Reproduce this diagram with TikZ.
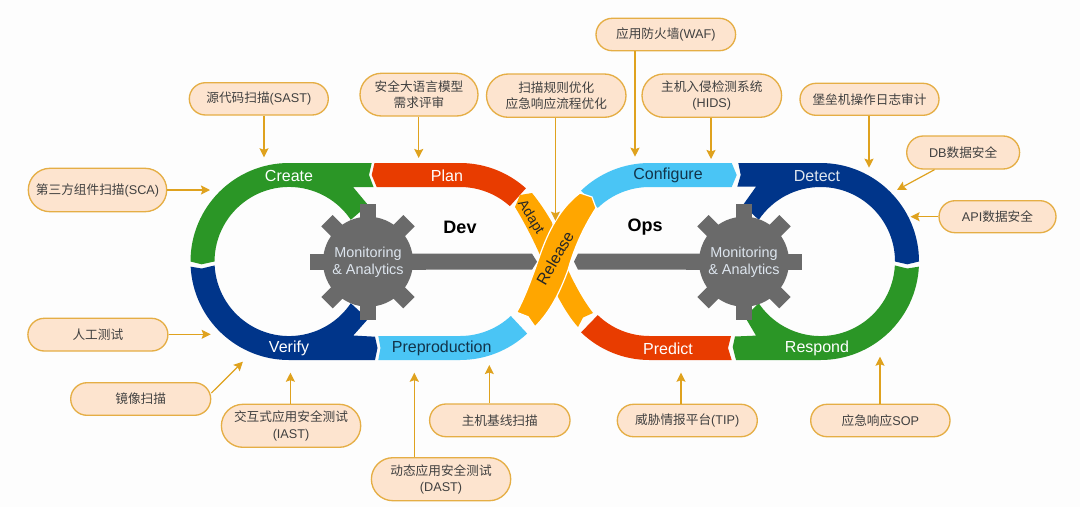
\documentclass[tikz,border=0pt]{standalone}
\usepackage{fontspec}
\setmainfont{Liberation Sans}
\newfontfamily\cjk{Noto Sans CJK SC}
\newcommand{\zh}[1]{{\cjk #1}}
\usetikzlibrary{arrows.meta,shapes.misc}
\definecolor{bgc}{HTML}{FDFDFD}
\definecolor{gr}{HTML}{2B9626}
\definecolor{nv}{HTML}{00358A}
\definecolor{rd}{HTML}{E83C00}
\definecolor{lb}{HTML}{4AC5F5}
\definecolor{og}{HTML}{FFA600}
\definecolor{gy}{HTML}{6A6A6A}
\definecolor{bf}{HTML}{FDE4CF}
\definecolor{bd}{HTML}{E5AE45}
\definecolor{ac}{HTML}{DFA21E}
\definecolor{tx}{HTML}{404040}
\definecolor{dk}{HTML}{12344A}
\definecolor{lt}{HTML}{DDE5EE}
\tikzset{
  x=0.75pt,y=-0.75pt,
  lab/.style={rounded rectangle,draw=bd,fill=bf,line width=1pt,inner sep=0pt,text=tx,align=center,
    font=\fontsize{9.5}{12.2}\selectfont},
  arr/.style={draw=ac,line width=0.9pt,-{Stealth[length=6.8pt,width=6.8pt,inset=1.2pt]}},
  wtxt/.style={text=white,font=\fontsize{12}{14}\selectfont,inner sep=0pt},
  dtxt/.style={text=dk,font=\fontsize{12}{14}\selectfont,inner sep=0pt},
  head/.style={text=black,font=\fontsize{13.5}{15}\selectfont\bfseries,inner sep=0pt},
  mon/.style={text=lt,font=\fontsize{10.8}{13}\selectfont,align=center,inner sep=0pt},
}
\newcommand{\boxn}[7]{\node[lab,minimum width={(#4-#2)*0.75pt},minimum height={(#5-#3)*0.75pt}] (#1) at ({(#2+#4)/2},{(#3+#5)/2}) {#6};}
\newcommand{\geardraw}[2]{%
  \fill[gy] (#1,#2) circle[radius=45];
  \foreach \a in {0,45,...,315}{
    \fill[gy,shift={(#1,#2)},rotate=\a] (30,-8) rectangle (58,8);
  }%
}
\begin{document}
\begin{tikzpicture}
\useasboundingbox (0,0) rectangle (1080,507);
\fill[bgc] (0,0) rectangle (1080,507);

% left lobe
\fill[gr] (190.5,261.5) arc[start angle=180,end angle=270,radius=98.5] -- (371.7,163) -- (369,175) -- (373.5,187) -- (353,187) -- (368,205) -- (350.8,219.8) arc[start angle=-34,end angle=-180,radius=74.5] -- (201.7,264.3) -- cycle;
\fill[nv] ({289+98.5*cos(177)},{261.5+98.5*sin(177)}) arc[start angle=177,end angle=90,radius=98.5] -- (375,360) -- (377.5,348) -- (375,336.7) -- (353.3,335.5) -- (368,319) -- (350.8,303.2) arc[start angle=34,end angle=177,radius=74.5] -- (201.7,268.5) -- cycle;
\fill[rd] (374.5,163) -- (460,163) arc[start angle=270,end angle=312,radius=98.5] -- ({460+74.5*cos(312)},{261.5+74.5*sin(312)}) arc[start angle=312,end angle=270,radius=74.5] -- (376.7,187) -- (371.7,175) -- cycle;
\fill[lb] (378.3,336) -- (380.5,348) -- (378.3,360) -- (460,360) arc[start angle=90,end angle=47,radius=98.5] -- ({460+74.5*cos(47)},{261.5+74.5*sin(47)}) arc[start angle=47,end angle=90,radius=74.5] -- cycle;
% right lobe
\fill[lb] ({649.5+98.5*cos(226)},{261.5+98.5*sin(226)}) arc[start angle=226,end angle=270,radius=98.5] -- (731.7,163) -- (736.7,175) -- (731.7,187) -- (649.5,187) arc[start angle=270,end angle=226,radius=74.5] -- cycle;
\fill[nv] (738.3,163) -- (820.5,163) arc[start angle=270,end angle=360,radius=98.5] -- (907.3,264.3) -- (895,261.5) arc[start angle=0,end angle=-146,radius=74.5] -- (743,205) -- (756,186.7) -- (737.3,186.7) -- (740.7,175) -- cycle;
\fill[gr] ({820.5+98.5*cos(3)},{261.5+98.5*sin(3)}) arc[start angle=3,end angle=90,radius=98.5] -- (736,360) -- (732.7,347) -- (735,336.5) -- (756,335.6) -- (745,317) -- (758.7,303.2) arc[start angle=146,end angle=3,radius=74.5] -- (907.3,268.5) -- cycle;
\fill[rd] ({649.5+98.5*cos(134)},{261.5+98.5*sin(134)}) arc[start angle=134,end angle=90,radius=98.5] -- (731.7,360) -- (728,348) -- (731,336) -- (649.5,336) arc[start angle=90,end angle=134,radius=74.5] -- cycle;

% Adapt strip
\fill[og] (515,207) -- (520,195) -- (532,193) .. controls (540,203) and (546,212) .. (551.7,222) -- (568,270) .. controls (575,285) and (583,300) .. (593,313) -- (583,317.5) -- (578,327) .. controls (570,318) and (564,308) .. (558,297) -- (540,255) .. controls (532,237) and (524,222) .. (515,207) -- cycle;
% Release strip
\fill[og,draw=white,line width=0.9pt] (580,193) -- (592,197) -- (596,208) .. controls (585,225) and (575,245) .. (568,270) .. controls (560,292) and (550,312) .. (535,326.7) -- (528,316.7) -- (516.7,312.3) .. controls (525,297) and (532,278) .. (540,255) .. controls (548,232) and (560,208) .. (580,193) -- cycle;

% gears and bars
\geardraw{368}{261.7}
\geardraw{744}{261.7}
\fill[gy] (400,253.7) -- (532,253.7) -- (537,261.7) -- (532,269.7) -- (400,269.7) -- cycle;
\fill[gy] (710,253.7) -- (578,253.7) -- (574,261.7) -- (578,269.7) -- (710,269.7) -- cycle;

% strip and lobe labels
\node[wtxt] (tcreate) at (289,175.7) {Create};
\node[wtxt] (tplan) at (447,175.7) {Plan};
\node[wtxt] (tverify) at (289,348.7) {Verify};
\node[dtxt] (tpre) at (441.7,348.3) {Preproduction};
\node[dtxt] (tconf) at (668,175.7) {Configure};
\node[text=lt,font=\fontsize{12}{14}\selectfont,inner sep=0pt] (tdet) at (817,175.7) {Detect};
\node[wtxt] (tresp) at (817,348.7) {Respond};
\node[wtxt] (tpred) at (668,348.3) {Predict};
\node[text=black!85,font=\fontsize{10.6}{12}\selectfont,inner sep=0pt,rotate=-58] (tadapt) at (530.5,217.5) {Adapt};
\node[text=black!85,font=\fontsize{12}{12}\selectfont,inner sep=0pt,rotate=60] (trel) at (555,258) {Release};
\node[head] (tdev) at (460,227) {Dev};
\node[head] (tops) at (645,227) {Ops};
\node[mon] (m1) at (368,262.5) {Monitoring\\\& Analytics};
\node[mon] (m2) at (744,262.5) {Monitoring\\\& Analytics};

% boxes
\boxn{sast}{189.3}{82.7}{328.3}{115}{\zh{源代码扫描}(SAST)}{}
\boxn{llm}{360}{73.3}{478}{116}{\zh{安全大语言模型}\\\zh{需求评审}}{}
\boxn{sca}{28.3}{168.3}{166.7}{211.7}{\zh{第三方组件扫描}(SCA)}{}
\boxn{waf}{596}{18.3}{735.6}{50.7}{\zh{应用防火墙}(WAF)}{}
\boxn{rule}{486.5}{74}{626}{117.3}{\zh{扫描规则优化}\\\zh{应急响应流程优化}}{}
\boxn{hids}{642}{74}{781.6}{117.3}{\zh{主机入侵检测系统}\\(HIDS)}{}
\boxn{bast}{800}{83.3}{939}{115.3}{\zh{堡垒机操作日志审计}}{}
\boxn{db}{906.7}{136}{1019.6}{169}{DB\zh{数据安全}}{}
\boxn{api}{939}{200.7}{1056}{232.7}{API\zh{数据安全}}{}
\boxn{man}{27.9}{318.3}{167.9}{351}{\zh{人工测试}}{}
\boxn{img}{70.7}{382.7}{210.7}{415.3}{\zh{镜像扫描}}{}
\boxn{iast}{221.4}{404.3}{360.7}{447.3}{\zh{交互式应用安全测试}\\(IAST)}{}
\boxn{dast}{371.4}{457.7}{510.7}{500.7}{\zh{动态应用安全测试}\\(DAST)}{}
\boxn{base}{429.6}{404}{570}{436.7}{\zh{主机基线扫描}}{}
\boxn{tip}{617.3}{404.3}{757.3}{436.7}{\zh{威胁情报平台}(TIP)}{}
\boxn{sop}{810.7}{404.3}{950}{436.7}{\zh{应急响应}SOP}{}

% connector ends
\coordinate (eSast) at (264,157.3);
\coordinate (eLlm) at (418.7,158);
\coordinate (eSca) at (210,190);
\coordinate (eWaf) at (635,156.7);
\coordinate (eRule) at (555.4,220.7);
\coordinate (eHids) at (711,159);
\coordinate (eBast) at (869,167.7);
\coordinate (eDb) at (897,190);
\coordinate (eApi) at (910.5,216.7);
\coordinate (eMan) at (210.7,334.3);
\coordinate (eImg) at (242.9,361.7);
\coordinate (eIast) at (290.4,372.7);
\coordinate (eDast) at (414.3,372.7);
\coordinate (eBase) at (489.3,365);
\coordinate (eTip) at (681,372.7);
\coordinate (eSop) at (880,356.7);

\draw[arr] (eSast |- sast.south) -- (eSast);
\draw[arr] (eLlm |- llm.south) -- (eLlm);
\draw[arr] (sca.east |- eSca) -- (eSca);
\draw[arr] (eWaf |- waf.south) -- (eWaf);
\draw[arr] (eRule |- rule.south) -- (eRule);
\draw[arr] (eHids |- hids.south) -- (eHids);
\draw[arr] (eBast |- bast.south) -- (eBast);
\draw[arr] (db.south west) ++(11.3,0) -- (eDb);
\draw[arr] (api.west |- eApi) -- (eApi);
\draw[arr] (man.east |- eMan) -- (eMan);
\draw[arr] (img.east) ++(0,-6) -- (eImg);
\draw[arr] (eIast |- iast.north) -- (eIast);
\draw[arr] (eDast |- dast.north) -- (eDast);
\draw[arr] (eBase |- base.north) -- (eBase);
\draw[arr] (eTip |- tip.north) -- (eTip);
\draw[arr] (eSop |- sop.north) -- (eSop);
\end{tikzpicture}
\end{document}
